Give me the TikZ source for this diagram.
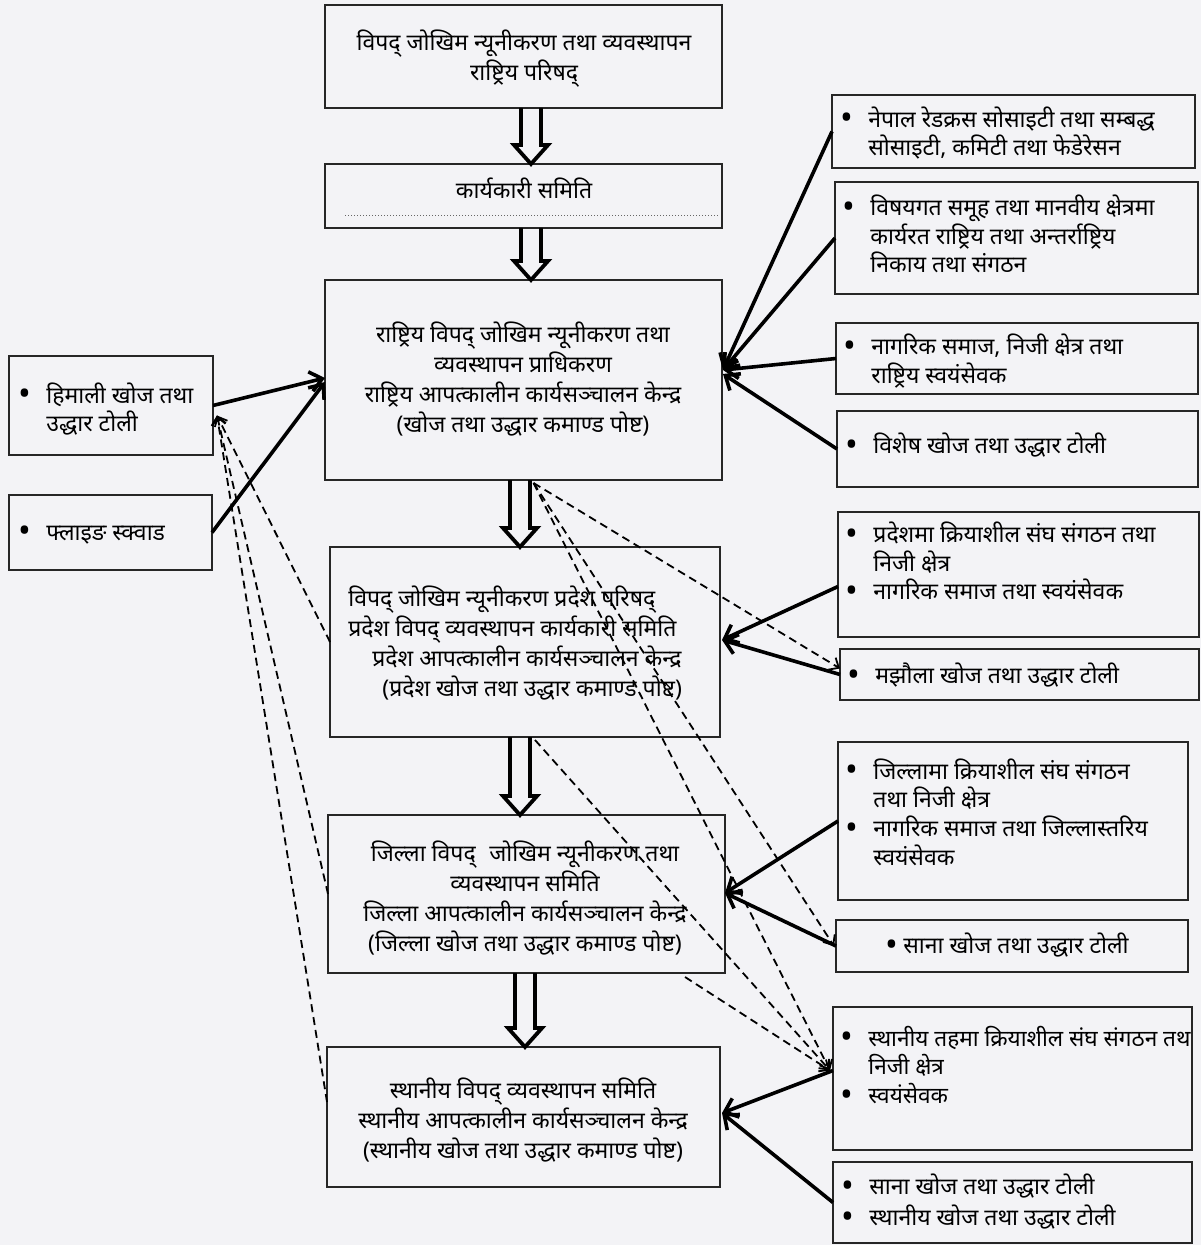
\documentclass[tikz,border=0pt]{standalone}
\usepackage{fontspec}
\setmainfont[Script=Devanagari]{Noto Sans}
\usetikzlibrary{arrows.meta,calc,fit}
\definecolor{bg}{RGB}{243,243,246}
\newcommand{\bdot}{\smash{\raisebox{-1.3pt}{\fontsize{17}{0}\selectfont•}}}
\newcommand{\bl}{\makebox[14pt][l]{\bdot}}
\newcommand{\ind}{\hspace*{14pt}}
\newcommand{\harrow}[3]{%
  \path (#3,0 |- #1.south) coordinate (ha) (#3,0 |- #2.north) coordinate (hb);
  \draw[hollow] ($(ha)+(-10,0)$) -- ($(hb)+(-10,-19)$) -- ($(hb)+(-17,-19)$) -- (hb)
    -- ($(hb)+(17,-19)$) -- ($(hb)+(10,-19)$) -- ($(ha)+(10,0)$);}
\begin{document}
\begin{tikzpicture}[x=0.5pt,y=-0.5pt,
  box/.style={draw=black!85, line width=1.1pt, inner sep=0pt, outer sep=0pt},
  ctext/.style={align=center, inner sep=0pt, font=\fontsize{11.5}{15}\selectfont},
  ltext/.style={align=left, inner sep=0pt, anchor=west, font=\fontsize{11.5}{14.3}\selectfont},
  solidarr/.style={line width=1.8pt, -{Straight Barb[length=6pt,width=10pt]}},
  dasharr/.style={line width=0.9pt, dash pattern=on 4pt off 2.5pt, -{Straight Barb[length=4pt,width=7pt]}},
  hollow/.style={line width=1.9pt, line join=miter}]
\fill[bg] (0,0) rectangle (1201,1245);
\useasboundingbox (0,0) rectangle (1201,1245);

% central boxes
\node[box, fit={(325,5) (722,108)}] (b1) {};
\node[box, fit={(325,164) (722,228)}] (b2) {};
\node[box, fit={(325,280) (722,480)}] (b3) {};
\node[box, fit={(330,547) (720,737)}] (b4) {};
\node[box, fit={(328,815) (725,973)}] (b5) {};
\node[box, fit={(327,1047) (720,1187)}] (b6) {};
% left boxes
\node[box, fit={(9,356) (213,455)}] (l1) {};
\node[box, fit={(9,495) (212,570)}] (l2) {};
% right boxes
\node[box, fit={(832,95) (1195,168)}] (r1) {};
\node[box, fit={(835,182) (1198,294)}] (r2) {};
\node[box, fit={(836,323) (1198,394)}] (r3) {};
\node[box, fit={(837,411) (1198,487)}] (r4) {};
\node[box, fit={(838,512) (1199,637)}] (r5) {};
\node[box, fit={(840,649) (1199,700)}] (r6) {};
\node[box, fit={(838,742) (1188,900)}] (r7) {};
\node[box, fit={(836,920) (1188,972)}] (r8) {};
\node[box, fit={(833,1007) (1192,1150)}] (r9) {};
\node[box, fit={(833,1162) (1192,1243)}] (r10) {};

% texts
\node[ctext] (b1t) at (524,59) {विपद् जोखिम न्यूनीकरण तथा व्यवस्थापन\\राष्ट्रिय परिषद्};
\node[ctext] (b2t) at (524,188) {कार्यकारी समिति};
\draw[black!60, densely dotted, line width=0.5pt] ($(b2.south west)+(20,-12)$) -- ($(b2.south east)+(-2,-12)$);
\node[ctext] (b3t) at (523,379) {राष्ट्रिय विपद् जोखिम न्यूनीकरण तथा\\व्यवस्थापन प्राधिकरण\\राष्ट्रिय आपत्कालीन कार्यसञ्चालन केन्द्र\\(खोज तथा उद्धार कमाण्ड पोष्ट)};
\node[ctext, align=left, anchor=west] (b4t) at (348,643) {विपद् जोखिम न्यूनीकरण प्रदेश परिषद्\\प्रदेश विपद् व्यवस्थापन कार्यकारी समिति\\\hspace*{12pt}प्रदेश आपत्कालीन कार्यसञ्चालन केन्द्र\\\hspace*{17pt}(प्रदेश खोज तथा उद्धार कमाण्ड पोष्ट)};
\node[ctext] (b5t) at (525,898) {जिल्ला विपद्\,\, जोखिम न्यूनीकरण तथा\\व्यवस्थापन समिति\\जिल्ला आपत्कालीन कार्यसञ्चालन केन्द्र\\(जिल्ला खोज तथा उद्धार कमाण्ड पोष्ट)};
\node[ctext] (b6t) at (523,1120) {स्थानीय विपद् व्यवस्थापन समिति\\स्थानीय आपत्कालीन कार्यसञ्चालन केन्द्र\\(स्थानीय खोज तथा उद्धार कमाण्ड पोष्ट)};

\node[ltext] (l1t) at (18,409) {\bl हिमाली खोज तथा\\\ind उद्धार टोली};
\node[ltext] (l2t) at (18,535) {\bl फ्लाइङ स्क्वाड};

\node[ltext] (r1t) at (840,133) {\bl नेपाल रेडक्रस सोसाइटी तथा सम्बद्ध\\\ind सोसाइटी, कमिटी तथा फेडेरेसन};
\node[ltext] (r2t) at (842,234) {\bl विषयगत समूह तथा मानवीय क्षेत्रमा\\\ind कार्यरत राष्ट्रिय तथा अन्तर्राष्ट्रिय\\\ind निकाय तथा संगठन};
\node[ltext] (r3t) at (843,361) {\bl नागरिक समाज, निजी क्षेत्र तथा\\\ind राष्ट्रिय स्वयंसेवक};
\node[ltext] (r4t) at (845,445) {\bl विशेष खोज तथा उद्धार टोली};
\node[ltext] (r5t) at (845,561) {\bl प्रदेशमा क्रियाशील संघ संगठन तथा\\\ind निजी क्षेत्र\\\bl नागरिक समाज तथा स्वयंसेवक};
\node[ltext] (r6t) at (847,675) {\bl मझौला खोज तथा उद्धार टोली};
\node[ltext] (r7t) at (845,812) {\bl जिल्लामा क्रियाशील संघ संगठन\\\ind तथा निजी क्षेत्र\\\bl नागरिक समाज तथा जिल्लास्तरिय\\\ind स्वयंसेवक};
\node[ltext] (r8t) at (885,945) {\makebox[9pt][l]{\bdot}साना खोज तथा उद्धार टोली};
\node[ltext, font=\fontsize{11.3}{14.3}\selectfont] (r9t) at (840,1065) {\bl स्थानीय तहमा क्रियाशील संघ संगठन तथ\\\ind निजी क्षेत्र\\\bl स्वयंसेवक};
\node[ltext, font=\fontsize{11.5}{15.5}\selectfont] (r10t) at (841,1202) {\bl साना खोज तथा उद्धार टोली\\\bl स्थानीय खोज तथा उद्धार टोली};

% coordinates for converging tips
\coordinate (b3in) at ($(b3.east)+(1,-10)$);
\coordinate (b3inL) at ($(b3.west)+(0,-2)$);
\coordinate (b4in) at ($(b4.east)+(2,-2)$);
\coordinate (b5in) at ($(b5.east)+(0,-1)$);
\coordinate (b6in) at ($(b6.east)+(2,-4)$);
\coordinate (l1in) at ($(l1.east)+(4,10)$);
\coordinate (r9in) at ($(r9.west)+(-3,-8)$);
\coordinate (s3) at ($(b3.south)+(10,3)$);

% dashed arrows
\draw[dasharr] (s3) -- ($(r6.west)+(0,-6)$);
\draw[dasharr] (s3) -- ($(r8.west)+(-2,0)$);
\draw[dasharr] (s3) -- (r9in);
\draw[dasharr] ($(b4.south)+(10,3)$) -- (r9in);
\draw[dasharr] ($(b5.south east)+(-40,4)$) -- (r9in);
\draw[dasharr] (b4.west) -- (l1in);
\draw[dasharr] (b5.west) -- (l1in);
\draw[dasharr] ($(b6.west)+(0,-15)$) -- (l1in);

% solid arrows
\draw[solidarr] (r1.west) -- (b3in);
\draw[solidarr] (r2.west) -- (b3in);
\draw[solidarr] (r3.west) -- (b3in);
\draw[solidarr] (r4.west) -- ($(b3in)+(0,4)$);
\draw[solidarr] (l1.east) -- (b3inL);
\draw[solidarr] (l2.east) -- ($(b3inL)+(0,4)$);
\draw[solidarr] ($(r5.west)+(0,12)$) -- (b4in);
\draw[solidarr] (r6.west) -- (b4in);
\draw[solidarr] (r7.west) -- (b5in);
\draw[solidarr] (r8.west) -- (b5in);
\draw[solidarr] ($(r9.west)+(0,-8)$) -- (b6in);
\draw[solidarr] (r10.west) -- (b6in);

% hollow arrows
\harrow{b1}{b2}{531}
\harrow{b2}{b3}{531}
\harrow{b3}{b4}{520}
\harrow{b4}{b5}{520}
\harrow{b5}{b6}{525}
\end{tikzpicture}
\end{document}
